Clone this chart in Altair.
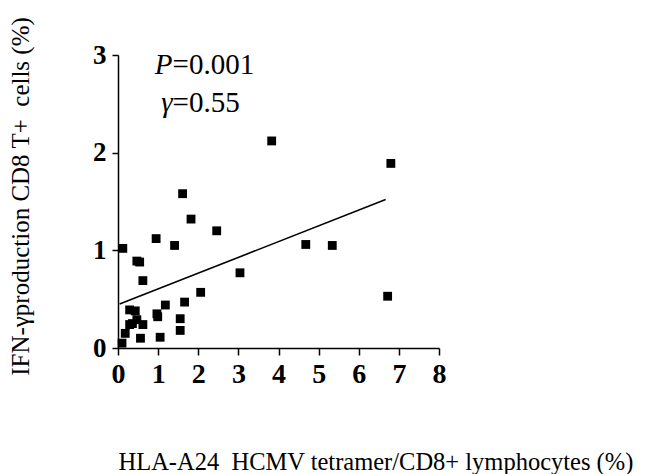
import altair as alt
import pandas as pd

# Scatter data
xs = [0.12, 0.10, 0.18, 0.29, 0.29, 0.36, 0.43, 0.47, 0.47, 0.54, 0.62, 0.62, 0.56,
      0.95, 0.99, 0.97, 1.05, 1.18, 1.41, 1.55, 1.55, 1.61, 1.66, 1.82, 2.06, 2.46,
      3.04, 3.83, 4.68, 5.34, 6.72, 6.80]
ys = [1.02, 0.05, 0.15, 0.24, 0.39, 0.25, 0.38, 0.29, 0.89, 0.88, 0.69, 0.24, 0.10,
      1.12, 0.32, 0.35, 0.11, 0.44, 1.05, 0.30, 0.18, 1.58, 0.47, 1.32, 0.57, 1.20,
      0.77, 2.12, 1.06, 1.05, 0.53, 1.89]

# Regression line endpoints
line_x = [0.04, 6.67]
line_y = [0.45, 1.52]

x_ticks = [0, 1, 2, 3, 4, 5, 6, 7, 8]
y_ticks = [0, 1, 2, 3]

ann_italic = ["P", "\u03b3"]
ann_rest = ["=0.001", "=0.55"]
ann_x = [1.36, 1.36]
ann_y = [2.81, 2.42]

pts = pd.DataFrame({"x": xs, "y": ys})
ln = pd.DataFrame({"x": line_x, "y": line_y})
ann = pd.DataFrame({"it": ann_italic, "rest": ann_rest, "x": ann_x, "y": ann_y})

SERIF = "Liberation Serif, Times New Roman, serif"

xscale = alt.Scale(domain=[0, 8], nice=False, zero=True)
yscale = alt.Scale(domain=[0, 3], nice=False, zero=True)

xaxis = alt.Axis(
    values=x_ticks, format="d", grid=False,
    title="HLA-A24\u00a0\u00a0HCMV tetramer/CD8+ lymphocytes (%)",
    titleFont=SERIF, titleFontSize=24.5, titleFontWeight="normal", titleColor="black",
    titleX=0, titleY=121, titleAlign="left", titleBaseline="alphabetic", titleAnchor="start",
    labelFont=SERIF, labelFontSize=28, labelFontWeight="bold", labelColor="black",
    labelPadding=5, tickSize=7, tickWidth=1.5, tickColor="black",
    domainColor="black", domainWidth=1.5, labelFlush=False,
)
yaxis = alt.Axis(
    values=y_ticks, format="d", grid=False,
    title="IFN-\u03b3production CD8 T+\u00a0\u00a0cells (%)",
    titleFont=SERIF, titleFontSize=25, titleFontWeight="normal", titleColor="black",
    titleX=-98, titleY=141, titleAngle=270, titleAlign="center", titleBaseline="middle", titleAnchor="start",
    labelFont=SERIF, labelFontSize=27, labelFontWeight="bold", labelColor="black",
    labelPadding=6, tickSize=6, tickWidth=1.5, tickColor="black",
    domainColor="black", domainWidth=1.5, labelFlush=False,
)

points = alt.Chart(pts).mark_point(shape="square", filled=True, size=78, color="black", opacity=1).encode(
    x=alt.X("x:Q", scale=xscale, axis=xaxis),
    y=alt.Y("y:Q", scale=yscale, axis=yaxis),
)

reg = alt.Chart(ln).mark_line(color="black", strokeWidth=1.6).encode(
    x=alt.X("x:Q", scale=xscale),
    y=alt.Y("y:Q", scale=yscale),
)

t_it = alt.Chart(ann).mark_text(font=SERIF, fontSize=29, fontStyle="italic", align="right",
                                baseline="alphabetic", color="black").encode(
    x=alt.X("x:Q", scale=xscale), y=alt.Y("y:Q", scale=yscale), text="it:N")
t_rest = alt.Chart(ann).mark_text(font=SERIF, fontSize=29, align="left",
                                  baseline="alphabetic", color="black").encode(
    x=alt.X("x:Q", scale=xscale), y=alt.Y("y:Q", scale=yscale), text="rest:N")

chart = alt.layer(points, reg, t_it, t_rest).properties(
    width=321, height=293,
    autosize=alt.AutoSizeParams(type="none"),
    padding={"left": 110, "top": 47, "right": 198, "bottom": 126},
    background="white",
).configure_view(stroke=None)

chart.save("out.html", embed_options={"renderer": "svg", "actions": False})
